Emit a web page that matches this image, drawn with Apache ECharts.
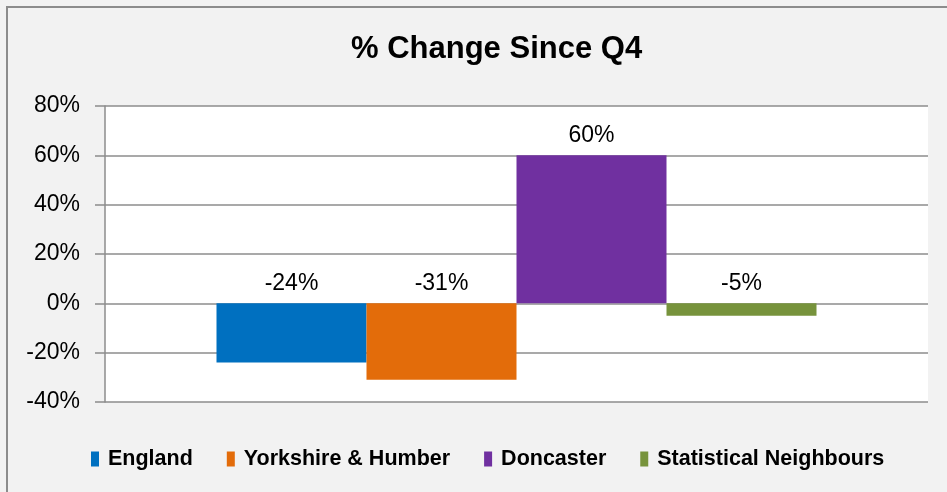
<!DOCTYPE html>
<html>
<head>
<meta charset="utf-8">
<script src="https://cdn.jsdelivr.net/npm/echarts@6/dist/echarts.min.js"></script>
<style>
  html, body { margin: 0; padding: 0; background: #f2f2f2; }
  #chart { width: 947px; height: 492px; }
</style>
</head>
<body>
<div id="chart"></div>
<script>
  // data
  var categories = ['Q4']
  var seriesNames = ['England', 'Yorkshire & Humber', 'Doncaster', 'Statistical Neighbours']
  var seriesColors = ['#0070c0', '#e36c0a', '#7030a0', '#77933c']
  var england = [-24]
  var yorkshire = [-31]
  var doncaster = [60]
  var statNeighbours = [-5]
  var yTicks = { min: -40, max: 80, interval: 20 }

  var seriesValues = [england, yorkshire, doncaster, statNeighbours]
  var font = '"Liberation Sans", Arial, sans-serif'

  var chart = echarts.init(document.getElementById('chart'))
  chart.setOption({
    backgroundColor: '#f2f2f2',
    animation: false,
    title: {
      text: '% Change Since Q4',
      left: 346,
      top: 29,
      textStyle: {
        fontFamily: font,
        fontWeight: 'bold',
        fontSize: 31,
        color: '#000'
      }
    },
    graphic: [{
      type: 'rect',
      z: 100,
      shape: { x: 7, y: 7, width: 980, height: 520 },
      style: { fill: 'none', stroke: '#8c8c8c', lineWidth: 2 }
    }],
    legend: {
      left: 86,
      top: 443,
      itemWidth: 8,
      itemHeight: 15,
      itemGap: 34,
      icon: 'rect',
      textStyle: {
        fontFamily: font,
        fontWeight: 'bold',
        fontSize: 21.5,
        color: '#000',
        padding: [0, 0, 0, 4]
      },
      data: seriesNames
    },
    grid: {
      left: 105,
      right: 19,
      top: 106,
      bottom: 90,
      show: true,
      backgroundColor: '#ffffff',
      borderWidth: 0
    },
    xAxis: {
      type: 'category',
      data: categories,
      axisLine: { show: false },
      axisTick: { show: false },
      axisLabel: { show: false }
    },
    yAxis: {
      type: 'value',
      min: yTicks.min,
      max: yTicks.max,
      interval: yTicks.interval,
      axisLine: { show: true, lineStyle: { color: '#8c8c8c', width: 1.5 } },
      axisTick: { show: true, length: 10, lineStyle: { color: '#8c8c8c', width: 1.5 } },
      axisLabel: {
        formatter: '{value}%',
        margin: 25,
        fontFamily: font,
        fontSize: 23,
        color: '#000'
      },
      splitLine: { lineStyle: { color: '#8c8c8c', width: 1.5 } }
    },
    series: seriesNames.map(function (name, i) {
      return {
        name: name,
        type: 'bar',
        barWidth: 150,
        barGap: '0%',
        data: seriesValues[i],
        itemStyle: { color: seriesColors[i] },
        label: {
          show: true,
          position: 'top',
          distance: 8,
          formatter: '{c}%',
          fontFamily: font,
          fontSize: 23,
          color: '#000'
        }
      }
    })
  })
</script>
</body>
</html>
